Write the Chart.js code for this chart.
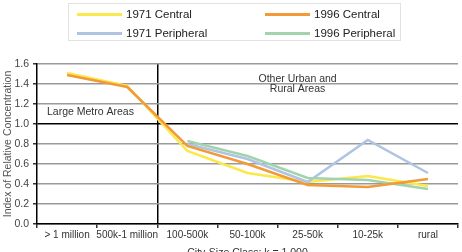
<!DOCTYPE html>
<html>
<head>
<meta charset="utf-8">
<script src="https://cdn.jsdelivr.net/npm/chart.js@4.4.1/dist/chart.umd.min.js"></script>
<style>
  html, body { margin: 0; padding: 0; background: #fff; }
  #wrap { position: relative; width: 462px; height: 252px; overflow: hidden; font-family: "Liberation Sans", Arial, sans-serif; }
  #legend { position: absolute; left: 68px; top: 3px; width: 333px; height: 38px; border: 1px solid #e2e2e2; box-sizing: border-box; }
  .item { position: absolute; height: 16px; display: flex; align-items: center; font-size: 11.5px; color: #222; white-space: nowrap; }
  .swatch { width: 45px; height: 3px; margin-right: 4px; }
</style>
</head>
<body>
<div id="wrap">
  <canvas id="chart" width="462" height="252"></canvas>
  <div id="legend"></div>
</div>
<script>
const categories = ['> 1 million', '500k-1 million', '100-500k', '50-100k', '25-50k', '10-25k', 'rural'];
const seriesNames = ['1971 Central', '1996 Central', '1971 Peripheral', '1996 Peripheral'];
const central1971 = [1.51, 1.38, 0.73, 0.51, 0.42, 0.48, 0.38];
const central1996 = [1.49, 1.37, 0.78, 0.60, 0.39, 0.37, 0.45];
const peripheral1971 = [null, null, 0.80, 0.65, 0.42, 0.84, 0.51];
const peripheral1996 = [null, null, 0.83, 0.68, 0.46, 0.44, 0.35];
const colors = ['#fbe84a', '#f29a3a', '#aec4e2', '#a3d3ad'];
const drawOrder = [4, 1, 3, 2];

const values = [central1971, central1996, peripheral1971, peripheral1996];
const FONT = '"Liberation Sans", Arial, sans-serif';

// legend, 2 x 2
const legendEl = document.getElementById('legend');
seriesNames.forEach((name, i) => {
  const d = document.createElement('div');
  d.className = 'item';
  d.style.left = (i % 2 === 0 ? 8 : 196) + 'px';
  d.style.top = (i < 2 ? 2 : 21) + 'px';
  d.innerHTML = `<div class="swatch" style="background:${colors[i]}"></div>${name}`;
  legendEl.appendChild(d);
});

const labelsPlugin = {
  id: 'areaLabels',
  afterDatasetsDraw(chart) {
    const { ctx, scales: { x, y } } = chart;
    ctx.save();
    ctx.fillStyle = '#333';
    ctx.font = '10.5px ' + FONT;
    ctx.textBaseline = 'middle';
    ctx.textAlign = 'left';
    ctx.fillText('Large Metro Areas', x.left + 10, y.getPixelForValue(1.12));
    ctx.textAlign = 'center';
    const cx = (x.getPixelForValue(3) + x.getPixelForValue(4)) / 2 + 20;
    ctx.fillText('Other Urban and', cx, y.getPixelForValue(1.45));
    ctx.fillText('Rural Areas', cx, y.getPixelForValue(1.35));
    ctx.restore();
  }
};

new Chart(document.getElementById('chart'), {
  type: 'line',
  data: {
    labels: categories,
    datasets: values.map((v, i) => ({
      label: seriesNames[i],
      data: v,
      borderColor: colors[i],
      backgroundColor: colors[i],
      borderWidth: 2.5,
      pointRadius: 0,
      tension: 0,
      order: drawOrder[i]
    }))
  },
  options: {
    responsive: false,
    animation: false,
    layout: { padding: { top: 64, right: 4, left: 0, bottom: 0 } },
    plugins: { legend: { display: false }, tooltip: { enabled: false } },
    scales: {
      x: {
        offset: true,
        grid: {
          offset: true,
          drawOnChartArea: true,
          color: ctx => ctx.index === 2 ? '#000' : 'rgba(0,0,0,0)',
          lineWidth: 1.5,
          tickColor: '#333',
          tickLength: 4
        },
        border: { color: '#000', width: 1.5 },
        ticks: {
          color: '#333',
          font: { size: 10, family: FONT },
          padding: 1,
          maxRotation: 0,
          autoSkip: false
        },
        title: {
          display: true,
          text: 'City-Size Class; k = 1,000',
          color: '#333',
          font: { size: 10.5, family: FONT },
          padding: { top: 0, bottom: -7 }
        },
        afterFit(scale) { scale.height = 28; }
      },
      y: {
        min: 0,
        max: 1.6,
        grid: {
          color: ctx => (ctx.tick && Math.abs(ctx.tick.value - 1) < 1e-6) ? '#000' : '#9a9a9a',
          lineWidth: 1.5,
          tickColor: '#333',
          tickLength: 4
        },
        border: { color: '#000', width: 1.5 },
        ticks: {
          stepSize: 0.2,
          color: '#444',
          padding: 4,
          font: { size: 10.5, family: FONT },
          callback: v => v.toFixed(1)
        },
        title: {
          display: true,
          text: 'Index of Relative Concentration',
          color: '#555',
          font: { size: 10.5, family: FONT },
          padding: { top: 2, bottom: 0 }
        },
        afterFit(scale) { scale.width = 37; }
      }
    }
  },
  plugins: [labelsPlugin]
});
</script>
</body>
</html>
